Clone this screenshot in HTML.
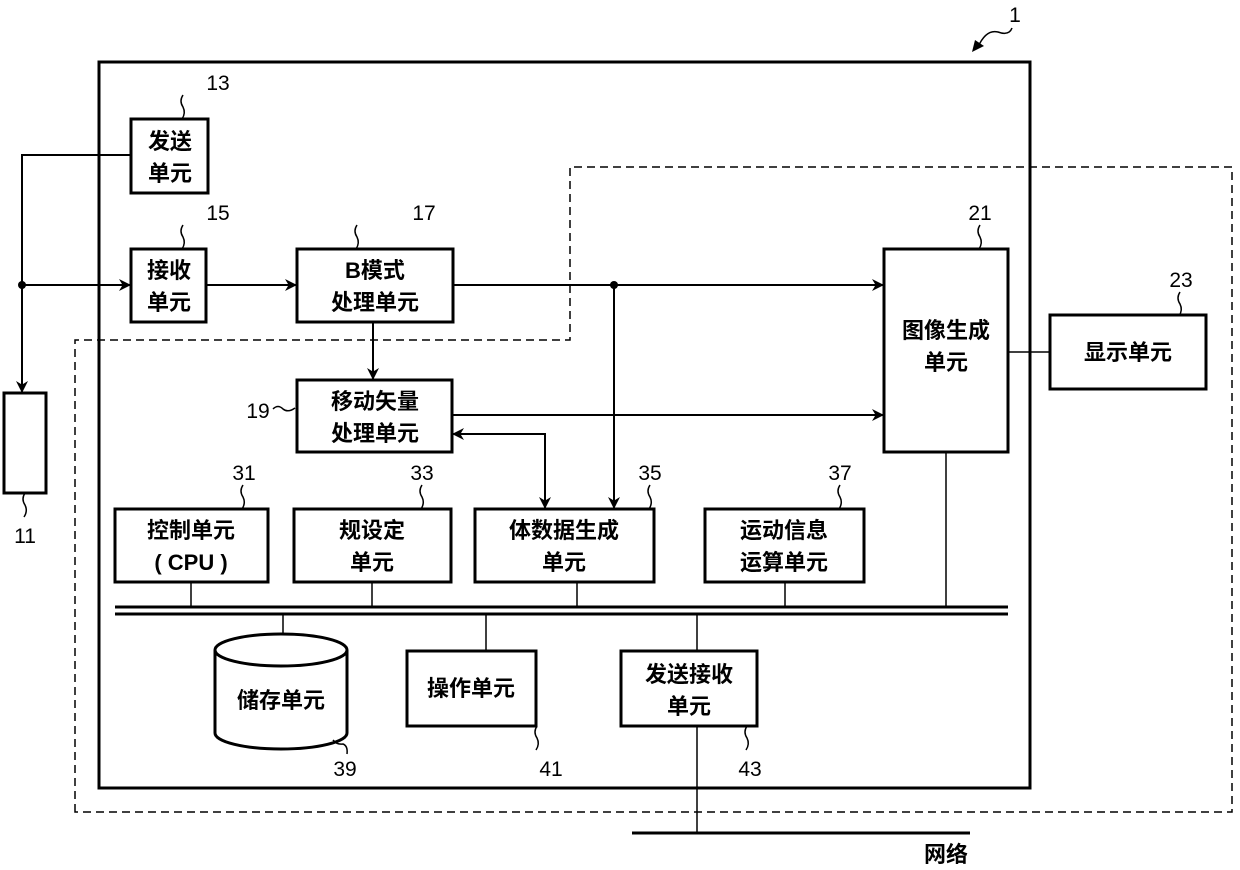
<!DOCTYPE html>
<html><head><meta charset="utf-8"><style>
body{margin:0;background:#fff}
svg text{font-family:"Liberation Sans","Noto Sans CJK SC",sans-serif;fill:#000}
.c{font-size:22px;font-weight:bold;text-anchor:middle}
.n{font-size:21px;text-anchor:middle}
</style></head><body>
<svg width="1240" height="865" viewBox="0 0 1240 865" xmlns="http://www.w3.org/2000/svg">
<defs><marker id="a" viewBox="0 0 10 10" refX="10" refY="5" markerWidth="12" markerHeight="12" markerUnits="userSpaceOnUse" orient="auto-start-reverse"><path d="M0,0 L10,5 L0,10 L3,5 z" fill="#000"/></marker></defs>
<g fill="none" stroke="#000">
<rect x="99" y="62" width="931" height="726" stroke-width="3"/>
<path d="M75,812 L75,340 L570,340 L570,167 L1232,167 L1232,812 Z" stroke-width="1.5" stroke-dasharray="8,5"/>
<g stroke-width="3">
<rect x="131" y="119" width="77" height="74"/>
<rect x="131" y="249" width="75" height="73"/>
<rect x="297" y="249" width="156" height="73"/>
<rect x="297" y="380" width="155" height="72"/>
<rect x="884" y="249" width="124" height="203"/>
<rect x="1050" y="315" width="156" height="74"/>
<rect x="4" y="393" width="42" height="100"/>
<rect x="115" y="509" width="153" height="73"/>
<rect x="294" y="509" width="157" height="73"/>
<rect x="475" y="509" width="179" height="73"/>
<rect x="705" y="509" width="159" height="73"/>
<rect x="407" y="651" width="129" height="75"/>
<rect x="621" y="651" width="136" height="75"/>
<path d="M215,650 L215,733 A66,16 0 0 0 347,733 L347,650"/>
<ellipse cx="281" cy="650" rx="66" ry="16"/>
<line x1="115" y1="607" x2="1008" y2="607"/>
<line x1="115" y1="614" x2="1008" y2="614"/>
<line x1="632" y1="833" x2="970" y2="833"/>
</g>
<g stroke-width="2">
<path d="M131,155 L22,155 L22,393" marker-end="url(#a)"/>
<line x1="22" y1="285" x2="131" y2="285" marker-end="url(#a)"/>
<line x1="206" y1="285" x2="297" y2="285" marker-end="url(#a)"/>
<line x1="453" y1="285" x2="884" y2="285" marker-end="url(#a)"/>
<line x1="614" y1="285" x2="614" y2="509" marker-end="url(#a)"/>
<line x1="373" y1="322" x2="373" y2="380" marker-end="url(#a)"/>
<line x1="452" y1="415" x2="884" y2="415" marker-end="url(#a)"/>
<path d="M452,434 L545,434 L545,509" marker-start="url(#a)" marker-end="url(#a)"/>
</g>
<g stroke-width="1.5">
<line x1="1008" y1="352" x2="1050" y2="352"/>
<line x1="946" y1="452" x2="946" y2="607"/>
<line x1="191" y1="582" x2="191" y2="607"/>
<line x1="372" y1="582" x2="372" y2="607"/>
<line x1="577" y1="582" x2="577" y2="607"/>
<line x1="785" y1="582" x2="785" y2="607"/>
<line x1="283" y1="614" x2="283" y2="634"/>
<line x1="486" y1="614" x2="486" y2="651"/>
<line x1="697" y1="614" x2="697" y2="651"/>
<line x1="697" y1="726" x2="697" y2="833"/>
<path d="M183,95 q-4,6 0,12 q3,6 -1,12"/>
<path d="M183,225 q-4,6 0,12 q3,6 -1,12"/>
<path d="M357,225 q-4,6 0,12 q3,6 -1,12"/>
<path d="M980,225 q-4,6 0,12 q3,6 -1,12"/>
<path d="M1180,292 q-4,6 0,12 q3,6 -1,12"/>
<path d="M243,485 q-4,6 0,12 q3,6 -1,12"/>
<path d="M422,485 q-4,6 0,12 q3,6 -1,12"/>
<path d="M650,485 q-4,6 0,12 q3,6 -1,12"/>
<path d="M840,485 q-4,6 0,12 q3,6 -1,12"/>
<path d="M25,493 q-4,6 0,12 q3,6 -1,12"/>
<path d="M333,740 q4,5 10,4 q5,2 4,10"/>
<path d="M537,726 q-4,6 0,12 q3,6 -1,12"/>
<path d="M747,726 q-4,6 0,12 q3,6 -1,12"/>
<path d="M273,409 q5,-5 10,0 q5,4 12,-1"/>
<path d="M1012,28 q-3,8 -14,4 q-12,-3 -20,15" />
</g>
</g>
<path d="M972,52 L975,40 L984,46 z" fill="#000"/>
<circle cx="22" cy="285" r="4" fill="#000"/>
<circle cx="614" cy="285" r="4" fill="#000"/>
<text class="c" x="170" y="149">发送</text><text class="c" x="170" y="181">单元</text>
<text class="c" x="169" y="278">接收</text><text class="c" x="169" y="310">单元</text>
<text class="c" x="375" y="278">B模式</text><text class="c" x="375" y="310">处理单元</text>
<text class="c" x="375" y="409">移动矢量</text><text class="c" x="375" y="441">处理单元</text>
<text class="c" x="946" y="338">图像生成</text><text class="c" x="946" y="370">单元</text>
<text class="c" x="1128" y="360">显示单元</text>
<text class="c" x="191" y="538">控制单元</text><text class="c" x="191" y="570">( CPU )</text>
<text class="c" x="372" y="538">规设定</text><text class="c" x="372" y="570">单元</text>
<text class="c" x="564" y="538">体数据生成</text><text class="c" x="564" y="570">单元</text>
<text class="c" x="784" y="538">运动信息</text><text class="c" x="784" y="570">运算单元</text>
<text class="c" x="281" y="708">储存单元</text>
<text class="c" x="471" y="696">操作单元</text>
<text class="c" x="689" y="682">发送接收</text><text class="c" x="689" y="714">单元</text>
<text class="c" x="946" y="862">网络</text>
<text class="n" x="218" y="90">13</text>
<text class="n" x="218" y="220">15</text>
<text class="n" x="424" y="220">17</text>
<text class="n" x="980" y="220">21</text>
<text class="n" x="1181" y="287">23</text>
<text class="n" x="258" y="418">19</text>
<text class="n" x="244" y="480">31</text>
<text class="n" x="422" y="480">33</text>
<text class="n" x="650" y="480">35</text>
<text class="n" x="840" y="480">37</text>
<text class="n" x="25" y="543">11</text>
<text class="n" x="345" y="776">39</text>
<text class="n" x="551" y="776">41</text>
<text class="n" x="750" y="776">43</text>
<text class="n" x="1015" y="22">1</text>
</svg>
</body></html>
